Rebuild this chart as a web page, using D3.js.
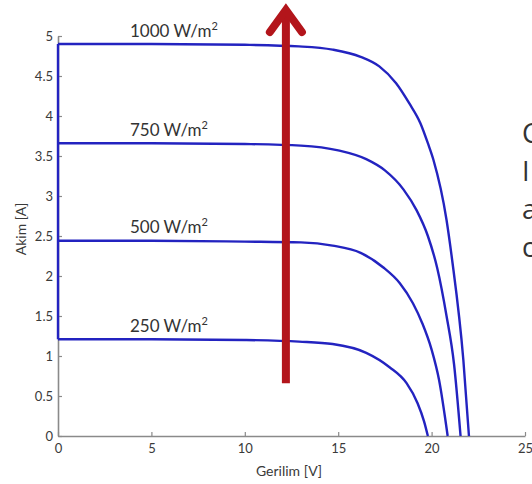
<!DOCTYPE html>
<html>
<head>
<meta charset="utf-8">
<script src="https://cdn.jsdelivr.net/npm/d3@7"></script>
<style>
  body { margin: 0; background: #fff; }
  svg { display: block; font-family: Lato, "Open Sans", sans-serif; }
</style>
</head>
<body>
<div id="viz"></div>
<script>
// I-V curves of a PV module for four irradiance levels
const irradiance = ["1000", "750", "500", "250"];

const voltage1000 = [0, 5, 10, 12.9, 14.7, 16.2, 17.2, 18.1, 18.8, 19.4, 19.8, 20.1, 20.8, 21.1, 21.7, 22.0];
const current1000 = [4.9, 4.9, 4.89, 4.87, 4.83, 4.74, 4.62, 4.41, 4.16, 3.91, 3.66, 3.45, 2.7, 2.2, 0.95, 0];

const voltage750 = [0, 5, 10, 13, 15, 16.5, 17.5, 18.5, 19.2, 19.8, 20.3, 20.8, 21.2, 21.55];
const current750 = [3.66, 3.66, 3.65, 3.63, 3.57, 3.46, 3.32, 3.08, 2.82, 2.5, 2.1, 1.5, 0.9, 0];

const voltage500 = [0, 5, 10, 13, 14.7, 16.2, 17.4, 18.3, 19.0, 19.5, 20.0, 20.4, 20.86];
const current500 = [2.44, 2.44, 2.43, 2.42, 2.38, 2.29, 2.11, 1.91, 1.66, 1.41, 1.08, 0.7, 0];

const voltage250 = [0, 5, 10, 12.9, 14.7, 16.5, 17.75, 18.66, 19.25, 19.6, 19.8];
const current250 = [1.21, 1.21, 1.2, 1.18, 1.15, 1.04, 0.86, 0.66, 0.41, 0.18, 0];

const xTicks = [0, 5, 10, 15, 20, 25];
const yTicks = [0, 0.5, 1, 1.5, 2, 2.5, 3, 3.5, 4, 4.5, 5];

// arrow showing increasing irradiance: [voltage, current from, current to]
const arrowVoltage = 12.2;
const arrowFrom = 0.66;
const arrowTo = 5.4;

// partly visible text on the right edge of the slide
const sideLetters = ["C", "I", "a", "c"];

const width = 532, height = 484;

const svg = d3.select("#viz").append("svg")
    .attr("width", width)
    .attr("height", height);

const x = d3.scaleLinear().domain([0, 25]).range([58, 525]);
const y = d3.scaleLinear().domain([0, 5]).range([436, 36]);

// axes, MATLAB style with ticks pointing inwards
const xAxis = svg.append("g")
    .attr("transform", `translate(0, ${y(0)})`)
    .call(d3.axisBottom(x).tickValues(xTicks).tickSizeInner(-4).tickSizeOuter(0).tickPadding(8));
const yAxis = svg.append("g")
    .attr("transform", `translate(${x(0)}, 0)`)
    .call(d3.axisLeft(y).tickValues(yTicks).tickSizeInner(-4).tickSizeOuter(0).tickPadding(5)
        .tickFormat(d => String(d)));

[xAxis, yAxis].forEach(g => {
    g.select(".domain").attr("stroke", "#8a8a8a").attr("stroke-width", 1.6);
    g.selectAll(".tick line").attr("stroke", "#8a8a8a").attr("stroke-width", 1.2);
    g.selectAll(".tick text").attr("fill", "#3a3a3a").attr("font-size", 13).attr("font-family", "Lato, sans-serif");
});

// axis titles
svg.append("text")
    .attr("x", 289)
    .attr("y", 476)
    .attr("text-anchor", "middle")
    .attr("font-size", 14)
    .attr("fill", "#3a3a3a")
    .text("Gerilim [V]");
svg.append("text")
    .attr("transform", `translate(26, 229) rotate(-90)`)
    .attr("text-anchor", "middle")
    .attr("font-size", 14)
    .attr("fill", "#3a3a3a")
    .text("Akim [A]");

// curves
const series = [
    { v: voltage1000, i: current1000 },
    { v: voltage750, i: current750 },
    { v: voltage500, i: current500 },
    { v: voltage250, i: current250 }
];

const line = d3.line()
    .x(d => x(d[0]))
    .y(d => y(d[1]))
    .curve(d3.curveMonotoneX);

const iscValues = series.map(s => s.i[0]);
svg.append("line")
    .attr("x1", x(0)).attr("x2", x(0))
    .attr("y1", y(d3.min(iscValues))).attr("y2", y(d3.max(iscValues)))
    .attr("stroke", "#2323c0")
    .attr("stroke-width", 2.4);

svg.selectAll(".iv")
    .data(series)
    .enter()
    .append("path")
    .attr("class", "iv")
    .attr("d", s => line(s.v.map((v, k) => [v, s.i[k]])))
    .attr("fill", "none")
    .attr("stroke", "#2323c0")
    .attr("stroke-width", 2.4);

// irradiance labels above each curve
const labels = svg.selectAll(".lbl")
    .data(series)
    .enter()
    .append("text")
    .attr("class", "lbl")
    .attr("x", x(3.85))
    .attr("y", s => y(s.i[0]) - 7.5)
    .attr("font-size", 17)
    .attr("fill", "#333");
labels.append("tspan").text((s, k) => irradiance[k] + " W/m");
labels.append("tspan")
    .attr("dy", -7)
    .attr("font-size", 11)
    .text("2");

// red arrow
const arrow = svg.append("g")
    .attr("stroke", "#b3151b")
    .attr("fill", "none")
    .attr("stroke-width", 8);
arrow.append("line")
    .attr("x1", x(arrowVoltage)).attr("x2", x(arrowVoltage))
    .attr("y1", y(arrowFrom)).attr("y2", y(arrowTo) + 6);
arrow.append("path")
    .attr("d", `M${x(arrowVoltage) - 16},${y(arrowTo) + 28} L${x(arrowVoltage)},${y(arrowTo) + 6} L${x(arrowVoltage) + 16},${y(arrowTo) + 28}`)
    .attr("stroke-linejoin", "miter")
    .attr("stroke-linecap", "round");

// side text cut by the right edge
svg.selectAll(".side")
    .data(sideLetters)
    .enter()
    .append("text")
    .attr("class", "side")
    .attr("x", 522)
    .attr("y", (d, k) => 143 + k * 38)
    .attr("font-size", 27)
    .attr("font-family", "'Open Sans', sans-serif")
    .attr("fill", "#333")
    .text(d => d);
</script>
</body>
</html>
